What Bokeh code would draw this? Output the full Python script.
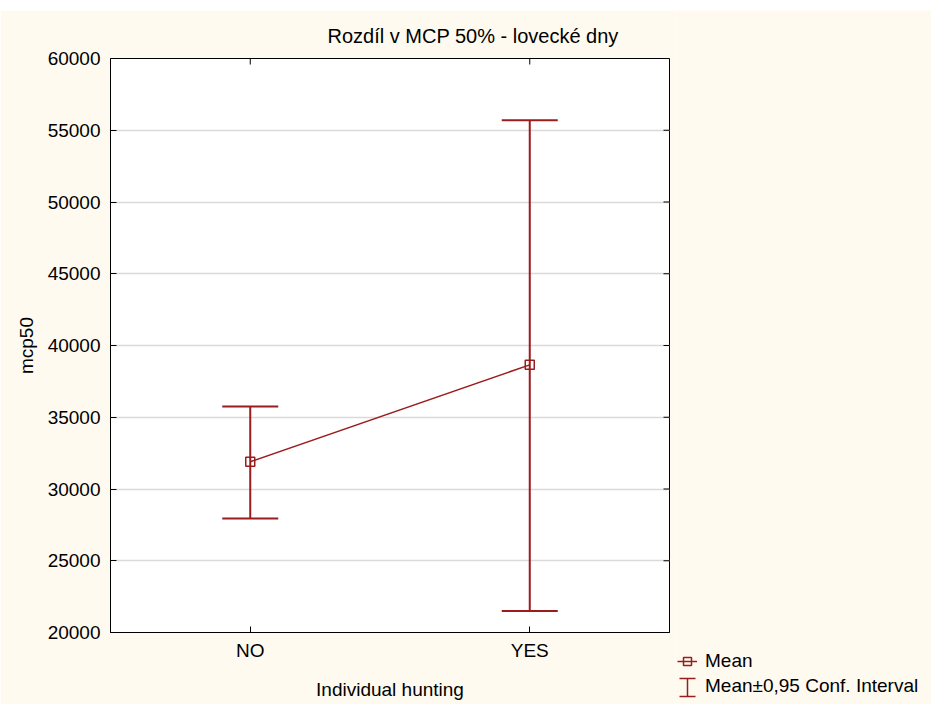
from bokeh.plotting import figure
from bokeh.layouts import column, row
from bokeh.models import (ColumnDataSource, Whisker, TeeHead, FixedTicker,
                          Legend, LegendItem, Spacer)
from bokeh.embed import file_html
from bokeh.resources import INLINE

# ---- data ----
categories = ["NO", "YES"]
cat_pos = [1, 2]
means = [31900, 38650]
upper = [35750, 55700]
lower = [27950, 21500]
y_ticks = [20000, 25000, 30000, 35000, 40000, 45000, 50000, 55000, 60000]

title_text = "Rozdíl v MCP 50% - lovecké dny"
x_label = "Individual hunting"
y_label = "mcp50"
legend_mean = "Mean"
legend_ci = "Mean±0,95 Conf. Interval"

RED = "#9b1c1c"
CREAM = "#FFFAF0"
FONT = "Liberation Sans"
FS = "19px"

X0, X1 = 0.5, 2.5
Y0, Y1 = 20000, 60000
FRAME_W, FRAME_H = 559, 574
TICK = 6

src = ColumnDataSource(dict(x=cat_pos, mean=means, upper=upper, lower=lower))

p = figure(width=675, height=694, x_range=(X0, X1), y_range=(Y0, Y1),
           output_backend="svg", toolbar_location=None,
           min_border_left=110, min_border_right=6, min_border_top=48, min_border_bottom=72,
           background_fill_color="white", border_fill_color=CREAM,
           outline_line_color="black", outline_line_width=1)
p.frame_align = False

p.title.text = title_text
p.title.align = "left"
p.title.offset = 217
p.title.standoff = 24
p.title.text_font = FONT
p.title.text_font_size = "20px"
p.title.text_font_style = "normal"
p.title.text_color = "black"

# grid
p.xgrid.visible = False
p.ygrid.grid_line_color = "#dadada"
p.ygrid.grid_line_width = 1.5
p.ygrid.ticker = FixedTicker(ticks=y_ticks)

# axes
xa = p.xaxis[0]
xa.ticker = FixedTicker(ticks=cat_pos)
xa.major_label_overrides = {k: v for k, v in zip(cat_pos, categories)}
ya = p.yaxis[0]
ya.ticker = FixedTicker(ticks=y_ticks)
for ax in (xa, ya):
    ax.axis_line_color = "black"
    ax.major_tick_in = TICK
    ax.major_tick_out = 0
    ax.minor_tick_line_color = None
    ax.major_label_text_font = FONT
    ax.major_label_text_font_size = FS
    ax.major_label_text_color = "black"
    ax.axis_label_text_font = FONT
    ax.axis_label_text_font_size = FS
    ax.axis_label_text_font_style = "normal"
    ax.axis_label_text_color = "black"
xa.axis_label = x_label
ya.axis_label = y_label
xa.major_label_standoff = 7
ya.major_label_standoff = 10
xa.axis_label_standoff = 15
ya.axis_label_standoff = 8

# inward ticks on right and top frame edges
dx = TICK * (X1 - X0) / FRAME_W
dy = TICK * (Y1 - Y0) / FRAME_H
p.segment(x0=[X1 - dx] * len(y_ticks), y0=y_ticks, x1=[X1] * len(y_ticks), y1=y_ticks,
          line_color="black", line_width=1)
p.segment(x0=cat_pos, y0=[Y1 - dy] * len(cat_pos), x1=cat_pos, y1=[Y1] * len(cat_pos),
          line_color="black", line_width=1)

# error bars
wh = Whisker(source=src, base="x", upper="upper", lower="lower", dimension="height",
             line_color=RED, line_width=2,
             upper_head=TeeHead(size=56, line_color=RED, line_width=2),
             lower_head=TeeHead(size=56, line_color=RED, line_width=2))
p.add_layout(wh)

# mean line & markers
p.line("x", "mean", source=src, line_color=RED, line_width=1.5)
p.scatter("x", "mean", source=src, marker="square", size=9,
          fill_color=None, line_color=RED, line_width=1.5)

# ---- legend panel (right side), pixel-unit ranges ----
PW, PH = 256, 694
LEG_X, LEG_Y, GLYPH = 2, 7, 20
pl = figure(width=PW, height=PH, x_range=(0, PW), y_range=(0, PH),
            output_backend="svg", toolbar_location=None,
            x_axis_location=None, y_axis_location=None, min_border=0,
            background_fill_color=CREAM, border_fill_color=CREAM,
            outline_line_color=None)
pl.frame_align = False
pl.grid.visible = False
# same data as the main chart; it falls outside this panel's ranges, only the legend shows
lr = pl.line("x", "mean", source=src, line_color=RED, line_width=1.5)
sr = pl.scatter("x", "mean", source=src, marker="square", size=9, fill_color=None,
                line_color=RED, line_width=1.5)
dummy = pl.line("x", "mean", source=src, line_alpha=0)
legend = Legend(items=[LegendItem(label=legend_mean, renderers=[lr, sr]),
                       LegendItem(label=legend_ci, renderers=[dummy])],
                location=(LEG_X, LEG_Y), padding=0, margin=0, spacing=3,
                glyph_width=GLYPH, glyph_height=GLYPH, label_standoff=8,
                border_line_color=None, background_fill_alpha=0,
                label_text_font=FONT, label_text_font_size=FS, label_text_color="black")
pl.add_layout(legend, "center")

# I-bar key for the confidence-interval entry
cx = LEG_X + GLYPH / 2
y_lo, y_hi = LEG_Y + 1, LEG_Y + 19
half = 8
pl.segment(x0=[cx, cx - half, cx - half], y0=[y_lo, y_lo, y_hi],
           x1=[cx, cx + half, cx + half], y1=[y_hi, y_lo, y_hi],
           line_color=RED, line_width=1.5)

layout = column(Spacer(width=931, height=10), row(p, pl))

html = file_html(layout, INLINE)
html = html.replace("<body>", '<body style="margin:0">', 1)
open("out.html", "w").write(html)
